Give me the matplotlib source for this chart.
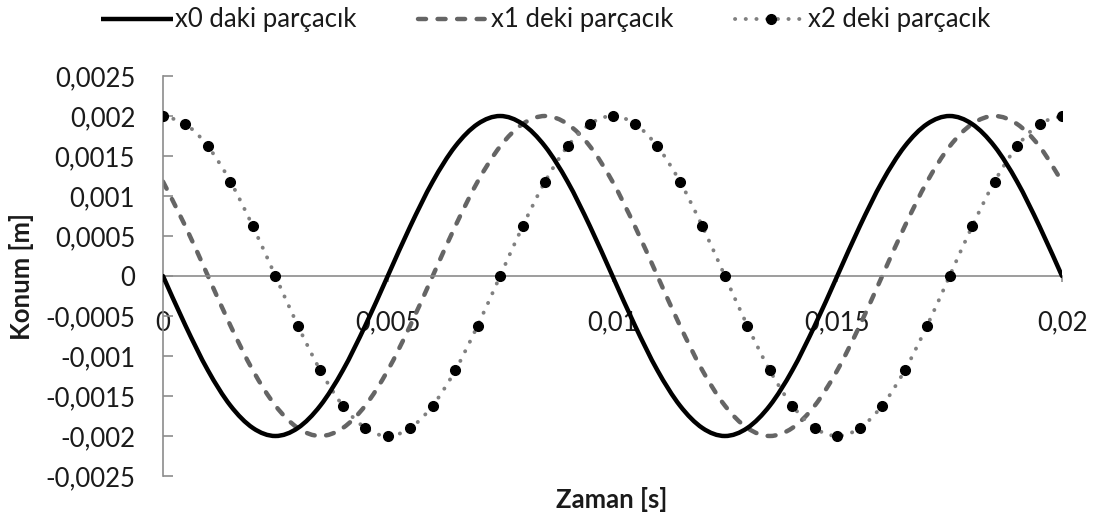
import matplotlib
matplotlib.use("Agg")
import matplotlib.pyplot as plt
from matplotlib.ticker import FixedLocator, FuncFormatter
from matplotlib.path import Path
from matplotlib.patches import PathPatch
from matplotlib.lines import Line2D

# Time samples [s], every 0.0005 s
t = [0.0, 0.0005, 0.001, 0.0015, 0.002, 0.0025, 0.003, 0.0035, 0.004, 0.0045,
     0.005, 0.0055, 0.006, 0.0065, 0.007, 0.0075, 0.008, 0.0085, 0.009, 0.0095,
     0.01, 0.0105, 0.011, 0.0115, 0.012, 0.0125, 0.013, 0.0135, 0.014, 0.0145,
     0.015, 0.0155, 0.016, 0.0165, 0.017, 0.0175, 0.018, 0.0185, 0.019, 0.0195,
     0.02]

# Particle positions [m]
x0 = [0.0, -0.00062, -0.00118, -0.00162, -0.0019, -0.002, -0.0019, -0.00162, -0.00118, -0.00062,
      0.0, 0.00062, 0.00118, 0.00162, 0.0019, 0.002, 0.0019, 0.00162, 0.00118, 0.00062,
      0.0, -0.00062, -0.00118, -0.00162, -0.0019, -0.002, -0.0019, -0.00162, -0.00118, -0.00062,
      0.0, 0.00062, 0.00118, 0.00162, 0.0019, 0.002, 0.0019, 0.00162, 0.00118, 0.00062,
      0.0]
x1 = [0.00118, 0.00062, 0.0, -0.00062, -0.00118, -0.00162, -0.0019, -0.002, -0.0019, -0.00162,
      -0.00118, -0.00062, 0.0, 0.00062, 0.00118, 0.00162, 0.0019, 0.002, 0.0019, 0.00162,
      0.00118, 0.00062, 0.0, -0.00062, -0.00118, -0.00162, -0.0019, -0.002, -0.0019, -0.00162,
      -0.00118, -0.00062, 0.0, 0.00062, 0.00118, 0.00162, 0.0019, 0.002, 0.0019, 0.00162,
      0.00118]
x2 = [0.002, 0.0019, 0.00162, 0.00118, 0.00062, 0.0, -0.00062, -0.00118, -0.00162, -0.0019,
      -0.002, -0.0019, -0.00162, -0.00118, -0.00062, 0.0, 0.00062, 0.00118, 0.00162, 0.0019,
      0.002, 0.0019, 0.00162, 0.00118, 0.00062, 0.0, -0.00062, -0.00118, -0.00162, -0.0019,
      -0.002, -0.0019, -0.00162, -0.00118, -0.00062, 0.0, 0.00062, 0.00118, 0.00162, 0.0019,
      0.002]

series_labels = ["x0 daki parçacık", "x1 deki parçacık", "x2 deki parçacık"]
x_ticks = [0.0, 0.005, 0.01, 0.015, 0.02]
y_ticks = [-0.0025, -0.002, -0.0015, -0.001, -0.0005, 0.0, 0.0005, 0.001, 0.0015, 0.002, 0.0025]

plt.rcParams['font.family'] = ['Lato', 'DejaVu Sans']
FS = 18.5
TXT = '#1a1a1a'


def smooth_path(xs, ys):
    """Smoothed line through the points (cubic Bezier segments, Catmull-Rom style)."""
    n = len(xs)
    verts = [(xs[0], ys[0])]
    codes = [Path.MOVETO]
    for i in range(n - 1):
        a = max(i - 1, 0)
        b = min(i + 2, n - 1)
        c1 = (xs[i] + (xs[i + 1] - xs[a]) / 6.0, ys[i] + (ys[i + 1] - ys[a]) / 6.0)
        c2 = (xs[i + 1] - (xs[b] - xs[i]) / 6.0, ys[i + 1] - (ys[b] - ys[i]) / 6.0)
        verts += [c1, c2, (xs[i + 1], ys[i + 1])]
        codes += [Path.CURVE4] * 3
    return Path(verts, codes)


fig = plt.figure(figsize=(10.99, 5.15), dpi=100)
ax = fig.add_axes([163 / 1099, 39 / 515, 899 / 1099, 400 / 515])

styles = [
    dict(color='black', lw=3.2, linestyle='-', cap='round', z=3),
    dict(color='#656565', lw=3.2, linestyle=(0, (1.8, 2.6)), cap='round', z=2),
    dict(color='#808080', lw=2.8, linestyle=(0, (0.05, 2.7)), cap='round', z=2),
]

for ys, st in zip([x0, x1, x2], styles):
    patch = PathPatch(smooth_path(t, ys), fill=False, edgecolor=st['color'],
                      lw=st['lw'], linestyle=st['linestyle'], zorder=st['z'])
    patch.set_capstyle(st['cap'])
    patch.set_joinstyle('round')
    ax.add_patch(patch)

ax.plot(t, x2, linestyle='none', marker='o', markersize=7,
        markerfacecolor='black', markeredgecolor='black', zorder=4)

handles = []
for i, st in enumerate(styles):
    h = Line2D([], [], color=st['color'], lw=st['lw'], linestyle=st['linestyle'],
               dash_capstyle='round', solid_capstyle='butt')
    if i == 2:
        h.set_marker('o')
        h.set_markersize(7)
        h.set_markerfacecolor('black')
        h.set_markeredgecolor('black')
    handles.append(h)

ax.set_xlim(0, 0.02)
ax.set_ylim(-0.0025, 0.0025)


def comma_fmt(v, _pos=None):
    if abs(v) < 1e-12:
        return "0"
    s = f"{v:.4f}".rstrip('0').rstrip('.')
    return s.replace('.', ',')


ax.xaxis.set_major_locator(FixedLocator(x_ticks))
ax.yaxis.set_major_locator(FixedLocator(y_ticks))
ax.xaxis.set_major_formatter(FuncFormatter(comma_fmt))
ax.yaxis.set_major_formatter(FuncFormatter(comma_fmt))

axis_col = '#8c8c8c'
for side in ('top', 'right'):
    ax.spines[side].set_visible(False)
ax.spines['bottom'].set_position(('data', 0))
ax.spines['bottom'].set_color(axis_col)
ax.spines['left'].set_color(axis_col)
ax.spines['bottom'].set_linewidth(1.2)
ax.spines['left'].set_linewidth(1.2)

ax.tick_params(axis='y', direction='in', length=7, width=1.2, color=axis_col,
               labelsize=FS, labelcolor=TXT, pad=20)
ax.tick_params(axis='x', direction='out', length=4, width=1.2, color=axis_col,
               labelsize=FS, labelcolor=TXT, pad=21)

fig.text(22 / 1099, 1 - 276 / 515, "Konum [m]", rotation=90, ha='center',
         va='center', fontsize=FS, fontweight='bold', color=TXT)
fig.text(612 / 1099, 1 - 499 / 515, "Zaman [s]", ha='center', va='center',
         fontsize=FS, fontweight='bold', color=TXT)

leg = fig.legend(handles, series_labels, loc='center',
                 bbox_to_anchor=(546 / 1099, 1 - 20 / 515),
                 ncol=3, frameon=False, fontsize=FS, handlelength=2.8,
                 handletextpad=0.05, columnspacing=2.4, borderaxespad=0)
for txt in leg.get_texts():
    txt.set_color(TXT)

fig.savefig("out.png", dpi=100)
